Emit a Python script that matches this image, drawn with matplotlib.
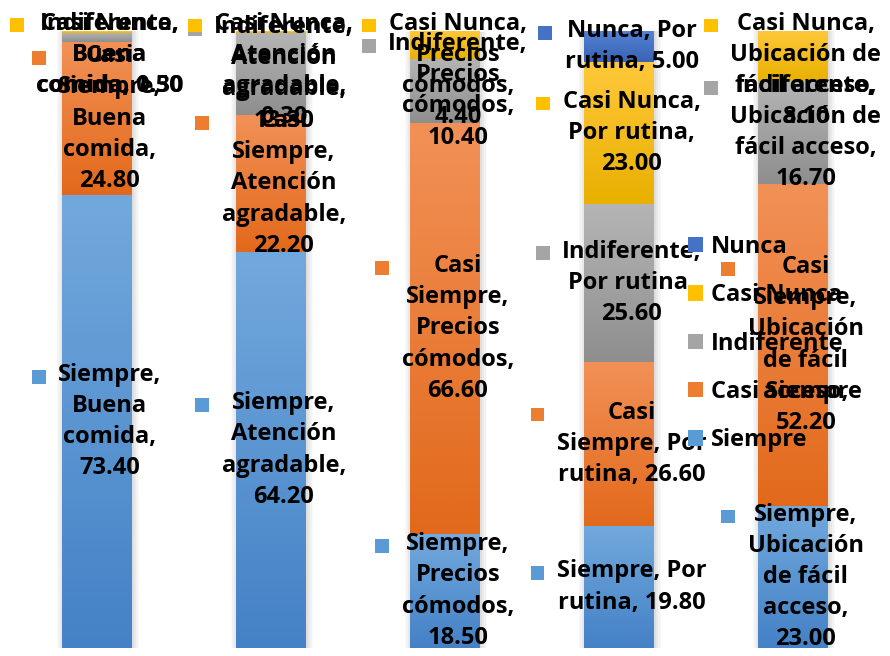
import matplotlib
matplotlib.use("Agg")
import matplotlib.pyplot as plt
import numpy as np
from matplotlib.colors import LinearSegmentedColormap
from matplotlib.patches import Rectangle
from matplotlib.offsetbox import DrawingArea, TextArea, HPacker, AnnotationBbox

plt.rcParams['font.family'] = ['Open Sans', 'DejaVu Sans']

categories = ['Buena comida', 'Atención agradable', 'Precios cómodos',
              'Por rutina', 'Ubicación de fácil acceso']
series = ['Siempre', 'Casi Siempre', 'Indiferente', 'Casi Nunca', 'Nunca']

siempre = [73.40, 64.20, 18.50, 19.80, 23.00]
casi_siempre = [24.80, 22.20, 66.60, 26.60, 52.20]
indiferente = [1.50, 13.30, 10.40, 25.60, 16.70]
casi_nunca = [0.30, 0.30, 4.40, 23.00, 8.10]
nunca = [0.00, 0.00, 0.00, 5.00, 0.00]

# wrapped label text per series, value goes into {}
siempre_lbl = ['Siempre,\nBuena\ncomida,\n{}', 'Siempre,\nAtención\nagradable,\n{}',
               'Siempre,\nPrecios\ncómodos,\n{}', 'Siempre, Por\nrutina, {}',
               'Siempre,\nUbicación\nde fácil\nacceso,\n{}']
casi_siempre_lbl = ['Casi\nSiempre,\nBuena\ncomida,\n{}', 'Casi\nSiempre,\nAtención\nagradable,\n{}',
                    'Casi\nSiempre,\nPrecios\ncómodos,\n{}', 'Casi\nSiempre, Por\nrutina, {}',
                    'Casi\nSiempre,\nUbicación\nde fácil\nacceso,\n{}']
indiferente_lbl = ['Indiferente,\nBuena\ncomida, {}', 'Indiferente,\nAtención\nagradable,\n{}',
                   'Indiferente,\nPrecios\ncómodos,\n{}', 'Indiferente,\nPor rutina,\n{}',
                   'Indiferente,\nUbicación de\nfácil acceso,\n{}']
casi_nunca_lbl = ['Casi Nunca,\nBuena\ncomida, {}', 'Casi Nunca,\nAtención\nagradable,\n{}',
                  'Casi Nunca,\nPrecios\ncómodos,\n{}', 'Casi Nunca,\nPor rutina,\n{}',
                  'Casi Nunca,\nUbicación de\nfácil acceso,\n{}']
nunca_lbl = ['Nunca, {}', 'Nunca, {}', 'Nunca, {}', 'Nunca, Por\nrutina, {}', 'Nunca, {}']

values = [siempre, casi_siempre, indiferente, casi_nunca, nunca]
labels = [siempre_lbl, casi_siempre_lbl, indiferente_lbl, casi_nunca_lbl, nunca_lbl]

# (top, bottom, legend) colours for each series
colors = [('#72a9dd', '#4481c6', '#5b9bd5'),
          ('#f29157', '#e2691b', '#ed7d31'),
          ('#b5b5b5', '#8e8e8e', '#a5a5a5'),
          ('#ffc83a', '#e8b000', '#ffc000'),
          ('#5282d2', '#3a63b5', '#4472c4')]

fs = 17
W, H = 890, 656
fig = plt.figure(figsize=(W / 100, H / 100), dpi=100)
ax = fig.add_axes([0, 8 / H, 1, 617 / H])
ax.axis('off')

x = np.arange(len(categories))
width = 0.40
totals = np.sum(values, axis=0)

# soft shadow around each column
for extra, a in [(0.075, 0.04), (0.055, 0.06), (0.035, 0.08), (0.018, 0.10)]:
    ax.bar(x + 0.008, totals, width=width + extra, color='#808080', alpha=a,
           linewidth=0, zorder=1)

bottom = np.zeros(len(categories))
grad = np.linspace(0, 1, 256).reshape(-1, 1)
for vals, (top_c, bot_c, _) in zip(values, colors):
    bars = ax.bar(x, vals, width=width, bottom=bottom, color=top_c, linewidth=0, zorder=2)
    cmap = LinearSegmentedColormap.from_list('g', [bot_c, top_c])
    for r in bars:
        if r.get_height() <= 0:
            continue
        ax.imshow(grad, cmap=cmap, aspect='auto', origin='lower', interpolation='bilinear',
                  extent=(r.get_x(), r.get_x() + r.get_width(), r.get_y(), r.get_y() + r.get_height()),
                  zorder=2.5)
    bottom += np.array(vals)

ax.set_xlim(-0.555, 4.56)
ax.set_ylim(0, 100)

# data labels with legend key
boxes = []
bottom = np.zeros(len(categories))
for vals, lbls, (_, _, key_c) in zip(values, labels, colors):
    for i, v in enumerate(vals):
        if v <= 0:
            continue
        da = DrawingArea(10, 15, 0, 0)
        da.add_artist(Rectangle((0, 0), 10, 10, facecolor=key_c, edgecolor='none'))
        ta = TextArea(lbls[i].format(f'{v:.2f}'),
                      textprops=dict(fontsize=fs, fontweight='bold', color='black',
                                     ha='center', multialignment='center', linespacing=1.4))
        pack = HPacker(children=[da, ta], align='top', pad=0, sep=9)
        ab = AnnotationBbox(pack, (x[i], bottom[i] + v / 2), xycoords='data',
                            xybox=(0, 0), boxcoords='offset pixels',
                            frameon=False, box_alignment=(0.5, 0.5), zorder=5)
        ax.add_artist(ab)
        boxes.append(ab)
    bottom += np.array(vals)

# keep labels inside the chart area
fig.canvas.draw()
renderer = fig.canvas.get_renderer()
for ab in boxes:
    bb = ab.get_window_extent(renderer)
    if bb.y1 > H - 6:
        ab.xyann = (0, -(bb.y1 - (H - 6)))

handles = [Rectangle((0, 0), 1, 1, facecolor=c[2], edgecolor='none') for c in colors]
leg = fig.legend(handles[::-1], series[::-1], loc='upper left',
                 bbox_to_anchor=(688 / W, 1 - 235 / H), frameon=False,
                 prop=dict(size=fs, weight='bold'), handlelength=0.63, handleheight=0.63,
                 handletextpad=0.33, labelspacing=1.03, borderpad=0, borderaxespad=0)
leg.set_zorder(6)

fig.savefig('out.png', dpi=100)
